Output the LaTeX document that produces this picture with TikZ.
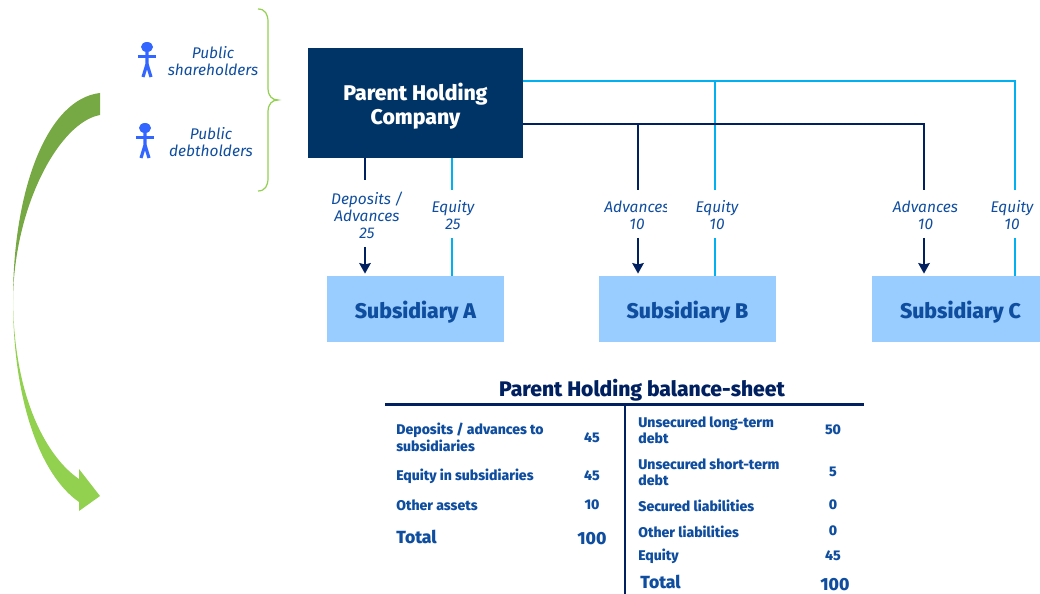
\documentclass[tikz,border=0pt]{standalone}
\usepackage{fontspec}
\usepackage{tikz}
\usetikzlibrary{arrows.meta}
\setmainfont[BoldFont={Fira Sans ExtraBold}]{Fira Sans}
\definecolor{parentblue}{HTML}{003366}
\definecolor{subblue}{HTML}{99CCFF}
\definecolor{textblue}{HTML}{0F4D9F}
\definecolor{navy}{HTML}{002060}
\definecolor{skyblue}{HTML}{00B0F0}
\definecolor{personblue}{HTML}{3366FF}
\definecolor{darkgreen}{HTML}{76A843}
\definecolor{lightgreen}{HTML}{92D050}
\tikzset{
  parentbox/.style={fill=parentblue,text=white,align=center,minimum width=4.3cm,minimum height=2.2cm,font=\fontsize{12.1}{13.6}\selectfont\bfseries},
  subbox/.style={fill=subblue,text=textblue,minimum height=1.32cm,font=\fontsize{12.1}{13}\selectfont\bfseries},
  flowtext/.style={text=textblue,align=center,inner sep=0pt,font=\fontsize{8.8}{9.7}\selectfont\itshape},
  sheettext/.style={text=textblue,align=left,anchor=west,inner sep=0pt,font=\fontsize{8}{9.3}\selectfont\bfseries},
  sheetnum/.style={text=textblue,inner sep=0pt,font=\fontsize{8}{9}\selectfont\bfseries},
  sheettotal/.style={text=textblue,inner sep=0pt,font=\fontsize{10}{11}\selectfont\bfseries},
  advline/.style={navy,line width=1.4pt},
  advarrow/.style={advline,-{Stealth[length=6pt,width=6.5pt,inset=0.8pt]}},
  eqline/.style={skyblue,line width=1.5pt},
  personline/.style={personblue,line width=1.8pt}
}
\begin{document}
\begin{tikzpicture}[x=.02cm,y=-.02cm]
\useasboundingbox (0,0) rectangle (1040,594);
% big curved arrow
\fill[darkgreen] (100,93) .. controls (47,99) and (13,190) .. (13,300)
  .. controls (14,205) and (60,122) .. (100,115) -- cycle;
\fill[lightgreen] (13,300) .. controls (13,400) and (40,475) .. (79,502)
  -- (79,511) -- (100,496) -- (79,469) -- (79,479)
  .. controls (48,458) and (14,400) .. (13,300) -- cycle;
% public holders
\foreach \px/\py in {147/47,145/128} {
  \fill[personblue] (\px,\py) ellipse (6 and 5);
  \draw[personline] (\px-9,\py+9.5) -- (\px+9,\py+9.5);
  \draw[personline] (\px,\py+3) -- (\px,\py+17) -- (\px-4,\py+30);
  \draw[personline] (\px,\py+17) -- (\px+4,\py+30);
}
\draw (213,61.5) node[flowtext] (shareholders) {Public\\shareholders};
\draw (211,142.5) node[flowtext] (debtholders) {Public\\debtholders};
% brace
\draw[lightgreen,line width=.7pt] (258,9) .. controls (265,9) and (268,14) .. (268,22)
  -- (268,88) .. controls (268,96) and (272,100) .. (278,100)
  .. controls (272,100) and (268,104) .. (268,112)
  -- (268,178) .. controls (268,186) and (265,191) .. (258,191);
% boxes
\draw (415.5,103) node[parentbox] (parent) {\raisebox{-.19cm}[0pt][0pt]{\begin{tabular}{@{}c@{}}Parent Holding\\Company\end{tabular}}};
\draw (415.5,309) node[subbox,minimum width=3.54cm] (subA) {\raisebox{-.2cm}[0pt][0pt]{Subsidiary A}};
\draw (687.5,309) node[subbox,minimum width=3.54cm] (subB) {\raisebox{-.2cm}[0pt][0pt]{Subsidiary B}};
\draw (956,309) node[subbox,minimum width=3.36cm] (subC) {\hspace{.18cm}\raisebox{-.2cm}[0pt][0pt]{Subsidiary C}};
% flow labels
\draw (367,215.5) node[flowtext] (advA) {Deposits /\\Advances\\25};
\draw (453,215.5) node[flowtext] (eqA) {Equity\\25};
\begin{scope}
\clip (600,195) rectangle (666,235);
\draw (637,215.5) node[flowtext] (advB) {Advances\\10};
\end{scope}
\draw (717,215.5) node[flowtext] (eqB) {Equity\\10};
\draw (925.5,215.5) node[flowtext] (advC) {Advances\\10};
\draw (1012,215.5) node[flowtext] (eqC) {Equity\\10};
% end points of the lines
\coordinate (darkA) at (365,180);
\coordinate (darkAlow) at (365,247);
\coordinate (lightA) at (452,190);
\coordinate (lightAlow) at (452,238);
\coordinate (lightOut) at (523,81);
\coordinate (darkOut) at (523,124);
\coordinate (darkB) at (638,124);
\coordinate (darkBend) at (638,190);
\coordinate (darkBlow) at (638,238);
\coordinate (lightB) at (715,81);
\coordinate (lightBend) at (715,190);
\coordinate (lightBlow) at (715,238);
\coordinate (darkC) at (924,124);
\coordinate (darkCend) at (924,190);
\coordinate (darkClow) at (924,238);
\coordinate (lightC) at (1015,81);
\coordinate (lightCend) at (1015,190);
\coordinate (lightClow) at (1015,238);
% subsidiary A
\draw[advline] (parent.south -| darkA) -- (darkA);
\draw[advarrow] (darkAlow) -- ([yshift=.04cm]subA.north -| darkAlow);
\draw[eqline] (parent.south -| lightA) -- (lightA);
\draw[eqline] (lightAlow) -- (subA.north -| lightAlow);
% subsidiary B
\draw[eqline] (lightOut) -- (lightB) -- (lightBend);
\draw[eqline] (lightBlow) -- (subB.north -| lightBlow);
\draw[advline] (darkOut) -- (darkB) -- (darkBend);
\draw[advarrow] (darkBlow) -- ([yshift=.04cm]subB.north -| darkBlow);
% subsidiary C
\draw[eqline] (lightB) -- (lightC) -- (lightCend);
\draw[eqline] (lightClow) -- (subC.north -| lightClow);
\draw[advline] (darkB) -- (darkC) -- (darkCend);
\draw[advarrow] (darkClow) -- ([yshift=.04cm]subC.north -| darkClow);
% balance sheet
\draw (642,390) node[text=navy,inner sep=0pt,font=\fontsize{12}{13}\selectfont\bfseries] (sheettitle) {Parent Holding balance-sheet};
\coordinate (ruleL) at (385,404.5);
\coordinate (ruleR) at (864,404.5);
\coordinate (ruleT) at (625,404.5);
\coordinate (ruleB) at (625,594);
\draw[advline] (ruleL) -- (ruleR);
\draw[advline] (ruleT) -- (ruleB);
% assets
\draw (396,437.5) node[sheettext] (deposits) {Deposits / advances to\\subsidiaries};
\draw (396,476.5) node[sheettext] (equitysubs) {Equity in subsidiaries};
\draw (396,505.5) node[sheettext] (otherassets) {Other assets};
\draw (396,537) node[sheettext,font=\fontsize{10}{11}\selectfont\bfseries] (totalL) {Total};
\draw (592,438) node[sheetnum] (depositsval) {45};
\draw (592,476) node[sheetnum] (equitysubsval) {45};
\draw (592,505) node[sheetnum] (otherassetsval) {10};
\draw (592,539) node[sheettotal] (totalLval) {100};
% liabilities
\draw (638,430) node[sheettext] (longterm) {Unsecured long-term\\debt};
\draw (638,472) node[sheettext] (shortterm) {Unsecured short-term\\debt};
\draw (638,505.5) node[sheettext] (secured) {Secured liabilities};
\draw (638,531.5) node[sheettext] (otherliab) {Other liabilities};
\draw (638,556.5) node[sheettext] (equityrow) {Equity};
\draw (640,582) node[sheettext,font=\fontsize{10}{11}\selectfont\bfseries] (totalR) {Total};
\draw (833,430) node[sheetnum] (longtermval) {50};
\draw (833,472) node[sheetnum] (shorttermval) {5};
\draw (833,505) node[sheetnum] (securedval) {0};
\draw (833,531) node[sheetnum] (otherliabval) {0};
\draw (833,556) node[sheetnum] (equityval) {45};
\draw (835,585) node[sheettotal] (totalRval) {100};
\end{tikzpicture}
\end{document}
